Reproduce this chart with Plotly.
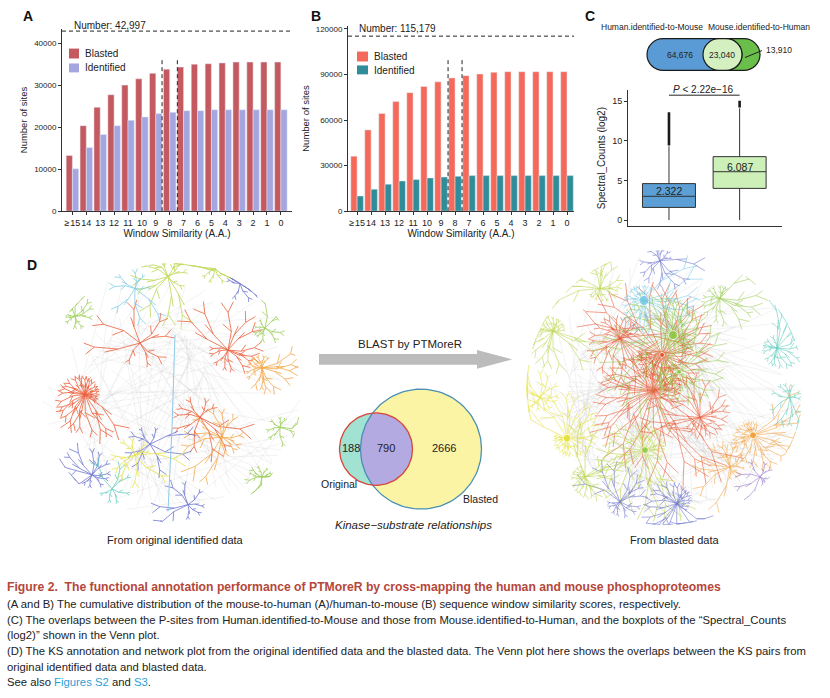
import numpy as np
import plotly.graph_objects as go

# ---- data ----
similarity_labels = ["≥\u200a15", "14", "13", "12", "11", "10", "9", "8",
                     "7", "6", "5", "4", "3", "2", "1", "0"]
a_blasted = [13300, 20400, 24800, 27800, 30100, 31600, 32900, 33900,
             34400, 35100, 35200, 35400, 35600, 35600, 35600, 35600]
a_identified = [10100, 15200, 18300, 20400, 21700, 22500, 23300, 23600,
                24000, 24000, 24200, 24200, 24200, 24200, 24200, 24200]
a_total = 42997

b_blasted = [36200, 53500, 64300, 72100, 78000, 82100, 85100, 87700,
             89200, 90300, 91400, 91800, 91800, 91800, 91800, 91800]
b_identified = [10000, 14500, 17800, 19900, 20800, 21900, 22500, 23000,
                23400, 23400, 23400, 23400, 23400, 23400, 23400, 23400]
b_total = 115179

c_venn_names = ["Human.identified-to-Mouse", "Mouse.identified-to-Human"]
c_venn_values = [64676, 23040, 13910]
c_q1 = [1.6, 4.0]
c_median = [3.0, 6.1]
c_q3 = [4.6, 8.0]
c_lowfence = [0.0, 0.0]
c_upfence = [9.3, 14.1]
c_outlier_lo = [9.4, 14.2]
c_outlier_hi = [13.6, 15.05]
c_means = [2.322, 6.087]
c_pvalue = "P < 2.22e−16"

d_venn_values = [188, 790, 2666]

W, H = 830, 698
def py(y):
    return 1 - y / H

RED, ORANGE, GREEN, YGREEN = "#e8471e", "#f39a2d", "#8dc63f", "#b3d23a"
YELLOW, BLUE, CYAN, PURPLE, TEAL = "#e3df2e", "#5b62c9", "#6ec6e6", "#8a64c4", "#4fc6b7"

# hub sketches for the two network pictures: (x, y, colour, spokes, rmin, rmax)
left_net = (171, 395, 130)
left_hubs = [
    (85, 397, RED, 30, 10, 42), (228, 352, RED, 14, 15, 50), (200, 420, RED, 10, 15, 45),
    (140, 345, RED, 8, 20, 50), (262, 370, ORANGE, 16, 10, 36), (222, 440, ORANGE, 12, 15, 45),
    (265, 330, GREEN, 9, 8, 26), (168, 278, YGREEN, 12, 15, 45), (75, 318, GREEN, 10, 8, 28),
    (262, 480, GREEN, 10, 8, 26), (92, 478, BLUE, 12, 10, 38), (150, 447, BLUE, 8, 15, 45),
    (188, 508, BLUE, 8, 12, 38), (240, 285, BLUE, 7, 10, 32), (135, 290, CYAN, 8, 12, 34),
    (112, 492, TEAL, 7, 10, 30), (135, 458, YELLOW, 10, 12, 40), (215, 270, YGREEN, 8, 12, 40),
    (280, 430, GREEN, 8, 8, 30),
]
right_net = (665, 390, 138)
right_hubs = [
    (653, 393, RED, 40, 20, 85), (662, 357, RED, 32, 20, 75), (620, 340, RED, 22, 15, 60),
    (700, 420, RED, 20, 15, 55), (644, 302, CYAN, 24, 12, 55), (673, 337, GREEN, 32, 15, 75),
    (679, 374, GREEN, 22, 15, 60), (645, 453, YGREEN, 26, 15, 65), (567, 441, YELLOW, 24, 10, 55),
    (553, 333, YGREEN, 20, 10, 50), (540, 400, YELLOW, 14, 10, 40), (753, 438, ORANGE, 24, 10, 55),
    (730, 470, ORANGE, 14, 10, 40), (777, 350, TEAL, 18, 10, 40), (677, 507, BLUE, 22, 10, 50),
    (620, 505, BLUE, 14, 10, 40), (660, 262, BLUE, 12, 10, 35), (600, 290, YGREEN, 16, 10, 45),
    (720, 300, GREEN, 16, 10, 45), (760, 480, PURPLE, 9, 8, 28), (585, 480, YGREEN, 18, 10, 45),
    (790, 400, TEAL, 10, 8, 30),
]
right_nodes = [(644, 302, CYAN, 10), (673, 337, GREEN, 9), (662, 357, RED, 5), (679, 374, GREEN, 5),
               (567, 441, YELLOW, 8), (645, 453, GREEN, 7), (753, 438, ORANGE, 7)]

GA = 2.399963


def clip(x, y, net):
    cx, cy, r = net
    d = np.hypot(x - cx, y - cy)
    if d > r:
        return cx + (x - cx) * r / d, cy + (y - cy) * r / d
    return x, y


def hub_lines(hub, net, phase):
    hx, hy, _, n, rmin, rmax = hub
    xs, ys = [], []
    for k in range(n):
        a = phase + k * GA
        f = (k * 0.618034 + phase) % 1
        length = rmin + (rmax - rmin) * f * f
        bend = 0.18 if k % 2 else -0.18
        mx, my = clip(hx + 0.5 * length * np.cos(a + bend), hy + 0.5 * length * np.sin(a + bend), net)
        ex, ey = clip(hx + length * np.cos(a), hy + length * np.sin(a), net)
        xs += [hx, mx, ex, None]
        ys += [hy, my, ey, None]
        for t in (-0.6, 0.45):
            tl = (0.2 + 0.2 * ((k * 0.37) % 1)) * length
            tx, ty = clip(ex + tl * np.cos(a + t), ey + tl * np.sin(a + t), net)
            xs += [ex, tx, None]
            ys += [ey, ty, None]
        bx, by = clip(mx + 0.3 * length * np.cos(a - 2 * bend - 0.5),
                      my + 0.3 * length * np.sin(a - 2 * bend - 0.5), net)
        xs += [mx, bx, None]
        ys += [my, by, None]
    return xs, ys


def mesh(net, n):
    cx, cy, r = net
    xs, ys = [], []
    for k in range(n):
        a1 = k * GA
        a2 = a1 + 0.8 + 2.4 * ((k * 0.2913) % 1)
        r1, r2 = r * np.sqrt((k * 0.618) % 1), r * np.sqrt((k * 0.7549 + 0.3) % 1)
        xs += [cx + r1 * np.cos(a1), cx + r2 * np.cos(a2), None]
        ys += [cy + r1 * np.sin(a1), cy + r2 * np.sin(a2), None]
    return xs, ys


fig = go.Figure()

# ---- panels A and B ----
xs16 = list(range(len(similarity_labels)))
fig.add_trace(go.Bar(x=xs16, y=a_blasted, marker_color="#c45a5f", xaxis="x", yaxis="y", showlegend=False))
fig.add_trace(go.Bar(x=xs16, y=a_identified, marker_color="#a5a5df", xaxis="x", yaxis="y", showlegend=False))
fig.add_trace(go.Bar(x=xs16, y=b_blasted, marker_color="#f4695a", xaxis="x2", yaxis="y2", showlegend=False))
fig.add_trace(go.Bar(x=xs16, y=b_identified, marker_color="#2f8c99", xaxis="x2", yaxis="y2", showlegend=False))

# ---- panel C boxplot ----
box_fill = ["#5b9fd6", "#ccf0b8"]
for i in range(2):
    fig.add_trace(go.Box(x=[i], q1=[c_q1[i]], median=[c_median[i]], q3=[c_q3[i]],
                         lowerfence=[c_lowfence[i]], upperfence=[c_upfence[i]],
                         width=0.75, whiskerwidth=0, fillcolor=box_fill[i],
                         line=dict(color="#333333", width=1), boxpoints=False,
                         xaxis="x3", yaxis="y3", showlegend=False, hoverinfo="skip"))
    fig.add_trace(go.Scatter(x=[i, i], y=[c_outlier_lo[i], c_outlier_hi[i]], mode="lines",
                             line=dict(color="#1a1a1a", width=2.6), xaxis="x3", yaxis="y3",
                             showlegend=False, hoverinfo="skip"))

# ---- panel D networks ----
for net, hubs, nmesh, lw in [(left_net, left_hubs, 90, 0.8), (right_net, right_hubs, 160, 0.6)]:
    gx, gy = mesh(net, nmesh)
    fig.add_trace(go.Scatter(x=gx, y=gy, mode="lines", line=dict(color="rgba(190,190,190,0.3)", width=0.6),
                             xaxis="x4", yaxis="y4", showlegend=False, hoverinfo="skip"))
    for j, hub in enumerate(hubs):
        hx, hy = hub_lines(hub, net, 0.37 * j + 0.11)
        fig.add_trace(go.Scatter(x=hx, y=hy, mode="lines", line=dict(color=hub[2], width=lw),
                                 opacity=0.85, xaxis="x4", yaxis="y4", showlegend=False, hoverinfo="skip"))
fig.add_trace(go.Scatter(x=[175, 172, 168], y=[337, 430, 515], mode="lines",
                         line=dict(color="#8fc8e8", width=1), xaxis="x4", yaxis="y4",
                         showlegend=False, hoverinfo="skip"))
fig.add_trace(go.Scatter(x=[n[0] for n in right_nodes], y=[n[1] for n in right_nodes], mode="markers",
                         marker=dict(color=[n[2] for n in right_nodes], size=[n[3] for n in right_nodes]),
                         xaxis="x4", yaxis="y4", showlegend=False, hoverinfo="skip"))

# ---- panel D venn ----
def arc(cx, cy, r, a0, a1, n=60):
    t = np.radians(np.linspace(a0, a1, n))
    return list(cx + r * np.cos(t)), list(cy + r * np.sin(t))

red_c, blue_c = (376, 452, 36.5), (421, 452, 60.5)
for c, col in [(blue_c, "#fbf4a4"), (red_c, "#a2e2d2")]:
    ax_, ay_ = arc(*c, 0, 360, 120)
    fig.add_trace(go.Scatter(x=ax_, y=ay_, fill="toself", fillcolor=col, mode="none",
                             xaxis="x4", yaxis="y4", showlegend=False, hoverinfo="skip"))
d = blue_c[0] - red_c[0]
a = (d ** 2 + red_c[2] ** 2 - blue_c[2] ** 2) / (2 * d)
th = np.degrees(np.arccos(a / red_c[2]))
ph = np.degrees(np.arccos((a - d) / blue_c[2]))
x1, y1 = arc(*red_c, -th, th)
x2, y2 = arc(*blue_c, ph, 360 - ph)
fig.add_trace(go.Scatter(x=x1 + x2, y=y1 + y2, fill="toself", fillcolor="#b3aae2", mode="none",
                         xaxis="x4", yaxis="y4", showlegend=False, hoverinfo="skip"))
for c, col in [(blue_c, "#4a90b4"), (red_c, "#d8453b")]:
    ax_, ay_ = arc(*c, 0, 360, 120)
    fig.add_trace(go.Scatter(x=ax_, y=ay_, mode="lines", line=dict(color=col, width=1.3),
                             xaxis="x4", yaxis="y4", showlegend=False, hoverinfo="skip"))

# ---- shapes ----
shapes = []
def dline(xref, yref, x0, y0, x1, y1):
    shapes.append(dict(type="line", xref=xref, yref=yref, x0=x0, y0=y0, x1=x1, y1=y1,
                       line=dict(color="#222222", width=1, dash="4px,3px")))

dline("x", "y", -0.75, a_total, 15.8, a_total)
dline("x", "y", 6.45, 0, 6.45, 36400)
dline("x", "y", 7.55, 0, 7.55, 36400)
dline("x2", "y2", -0.65, b_total, 15.5, b_total)
dline("x2", "y2", 6.5, 0, 6.5, 99500)
dline("x2", "y2", 7.5, 0, 7.5, 99500)

def rect(x0, y0, x1, y1, col):
    shapes.append(dict(type="rect", xref="x4", yref="y4", x0=x0, y0=y0, x1=x1, y1=y1,
                       fillcolor=col, line=dict(width=0)))

rect(69, 48, 79, 58, "#c45a5f")
rect(69, 63, 79, 72, "#a5a5df")
rect(357, 51, 368, 61, "#f4695a")
rect(357, 65, 368, 74, "#2f8c99")


def stadium(x0, x1, yc, r):
    k = 0.5523 * r
    return (f"M{x0+r},{yc-r} L{x1-r},{yc-r} C{x1-r+k},{yc-r} {x1},{yc-k} {x1},{yc} "
            f"C{x1},{yc+k} {x1-r+k},{yc+r} {x1-r},{yc+r} L{x0+r},{yc+r} "
            f"C{x0+r-k},{yc+r} {x0},{yc+k} {x0},{yc} C{x0},{yc-k} {x0+r-k},{yc-r} {x0+r},{yc-r} Z")

for x0, x1, col in [(703, 760, "#6abf4b"), (647, 742, "#5b9bd5"), (703, 742, "#d4efc0")]:
    shapes.append(dict(type="path", xref="x4", yref="y4", path=stadium(x0, x1, 54, 16),
                       fillcolor=col, line=dict(color="#1a1a1a", width=1.2)))
shapes.append(dict(type="line", xref="x4", yref="y4", x0=745, y0=57, x1=762, y1=50,
                   line=dict(color="#222222", width=1)))
shapes.append(dict(type="line", xref="x3", yref="y3", x0=0, x1=1, y0=15.75, y1=15.75,
                   line=dict(color="#222222", width=1)))
shapes.append(dict(type="path", xref="x4", yref="y4",
                   path="M319,356 L477,356 L477,352 L512,361.5 L477,371 L477,367 L319,367 Z",
                   fillcolor="#bcbcbc", line=dict(width=0)))

# ---- text ----
ann = []
def txt(x, y, s, size=10, color="#222222", xa="center", ya="middle", **kw):
    ann.append(dict(x=x, y=y, xref="x4", yref="y4", text=s, showarrow=False, xanchor=xa,
                    yanchor=ya, font=dict(size=size, color=color), **kw))

txt(28, 15, "<b>A</b>", 14, "#111")
txt(316, 15, "<b>B</b>", 14, "#111")
txt(590, 15, "<b>C</b>", 14, "#111")
txt(32, 266, "<b>D</b>", 14, "#111")
txt(72, 25, f"Number: {a_total:,}", 10, xa="left")
txt(357, 28, f"Number: {b_total:,}", 10, xa="left")
txt(83, 53, "Blasted", 10, xa="left")
txt(83, 67.5, "Identified", 10, xa="left")
txt(372, 56, "Blasted", 10, xa="left")
txt(372, 70, "Identified", 10, xa="left")
txt(652, 26, c_venn_names[0], 8.5)
txt(759, 26, c_venn_names[1], 8.5)
txt(680, 54, f"{c_venn_values[0]:,}", 8.5)
txt(722, 54, f"{c_venn_values[1]:,}", 8.5)
txt(764, 49, f"{c_venn_values[2]:,}", 8.5, xa="left")
txt(703, 89, "<i>P</i>" + c_pvalue[1:], 10)
txt(410, 346, "BLAST by PTMoreR", 11.5)
txt(351, 451, str(d_venn_values[0]), 11)
txt(386, 451, str(d_venn_values[1]), 11)
txt(444, 451, str(d_venn_values[2]), 11)
txt(339, 487, "Original", 10.5)
txt(480, 502, "Blasted", 10.5)
txt(413, 529, "<i>Kinase−substrate relationships</i>", 11.5)
txt(175, 544, "From original identified data", 11)
txt(675, 544, "From blasted data", 11)
for i in range(2):
    ann.append(dict(x=i, y=c_median[i] + 0.65, xref="x3", yref="y3", text=f"{c_means[i]:.3f}",
                    showarrow=False, font=dict(size=10.5, color="#222")))

caption = [
    "<b>Figure 2.  The functional annotation performance of PTMoreR by cross-mapping the human and mouse phosphoproteomes</b>",
    "(A and B) The cumulative distribution of the mouse-to-human (A)/human-to-mouse (B) sequence window similarity scores, respectively.",
    "(C) The overlaps between the P-sites from Human.identified-to-Mouse and those from Mouse.identified-to-Human, and the boxplots of the “Spectral_Counts",
    "(log2)” shown in the Venn plot.",
    "(D) The KS annotation and network plot from the original identified data and the blasted data. The Venn plot here shows the overlaps between the KS pairs from",
    "original identified data and blasted data.",
    "See also <span style='color:#2a9fd6'>Figures S2</span> and <span style='color:#2a9fd6'>S3</span>.",
]
cap_y = [591, 608, 624, 639, 656, 672, 687]
for i, (s, yy) in enumerate(zip(caption, cap_y)):
    txt(5, yy, s, 12.2 if i == 0 else 11.3, "#b5473a" if i == 0 else "#222222", xa="left")

axis_common = dict(showline=True, linecolor="#333333", linewidth=1, ticks="outside", ticklen=3,
                   tickcolor="#333333", showgrid=False, zeroline=False)

fig.update_layout(
    width=W, height=H, margin=dict(l=0, r=0, t=0, b=0),
    paper_bgcolor="white", plot_bgcolor="rgba(0,0,0,0)",
    font=dict(family="Liberation Sans, Arial, sans-serif", color="#222222"),
    barmode="group", bargap=0.1, bargroupgap=0, boxmode="overlay",
    xaxis=dict(domain=[62 / W, 292 / W], range=[-0.75, 15.8], tickvals=xs16, ticktext=similarity_labels,
               tickfont=dict(size=9), tickangle=0, anchor="y",
               title=dict(text="Window Similarity (A.A.)", font=dict(size=10), standoff=0), **axis_common),
    yaxis=dict(domain=[py(212), py(28)], range=[0, 43550], tickvals=[0, 10000, 20000, 30000, 40000],
               tickformat="d", tickfont=dict(size=8), anchor="x",
               title=dict(text="Number of sites", font=dict(size=9.5), standoff=4), **axis_common),
    xaxis2=dict(domain=[348 / W, 574 / W], range=[-0.65, 15.5], tickvals=xs16, ticktext=similarity_labels,
                tickfont=dict(size=9), tickangle=0, anchor="y2",
                title=dict(text="Window Similarity (A.A.)", font=dict(size=10), standoff=0), **axis_common),
    yaxis2=dict(domain=[py(212), py(25)], range=[0, 122000], tickvals=[0, 30000, 60000, 90000, 120000],
                tickformat="d", tickfont=dict(size=8), anchor="x2",
                title=dict(text="Number of sites", font=dict(size=9.5), standoff=4), **axis_common),
    xaxis3=dict(domain=[628 / W, 782 / W], range=[-0.58, 1.6], showticklabels=False, anchor="y3",
                showline=True, linecolor="#333333", ticks="", showgrid=False, zeroline=False),
    yaxis3=dict(domain=[py(227), py(90)], range=[-0.75, 16.375], tickvals=[0, 5, 10, 15],
                tickfont=dict(size=9), anchor="x3",
                title=dict(text="Spectral_Counts (log2)", font=dict(size=10), standoff=4), **axis_common),
    xaxis4=dict(domain=[0, 1], range=[0, W], visible=False, anchor="y4"),
    yaxis4=dict(domain=[0, 1], range=[H, 0], visible=False, anchor="x4"),
    shapes=shapes, annotations=ann,
)

# page body has a default margin that would push the figure off by 8px
fig.write_html("out.html", config={"displayModeBar": False},
               post_script="document.body.style.margin='0';document.body.style.overflow='hidden';")
